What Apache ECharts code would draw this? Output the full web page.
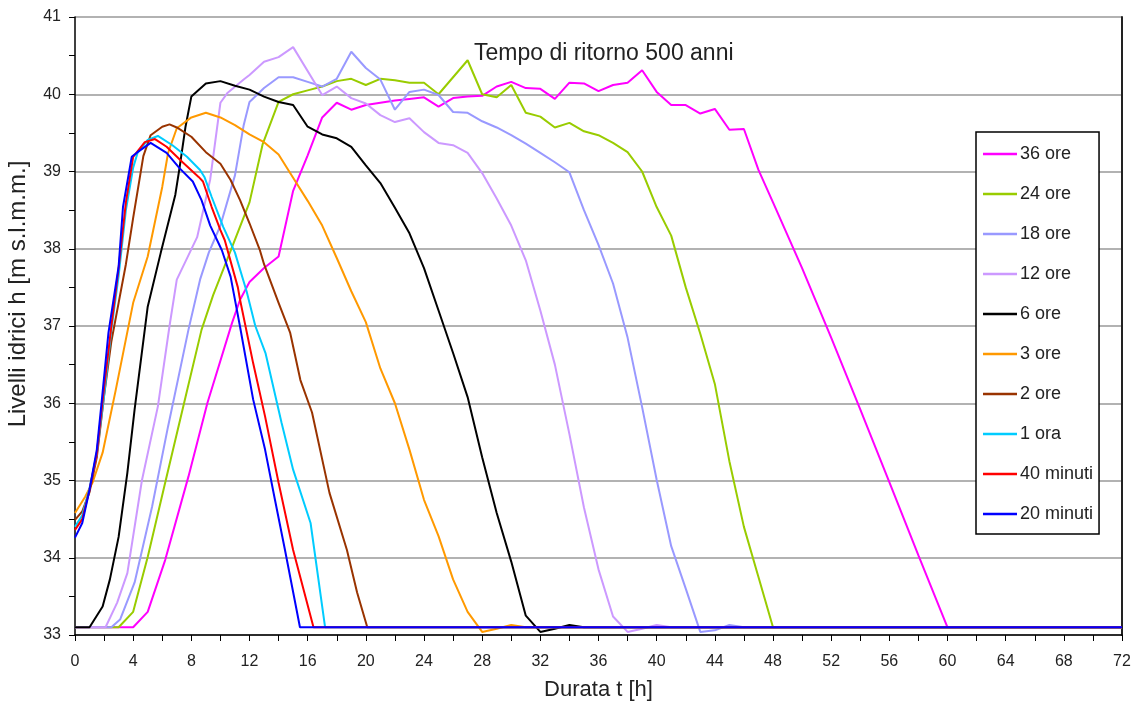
<!DOCTYPE html>
<html>
<head>
<meta charset="utf-8">
<title>Livelli idrici</title>
<script src="https://cdn.jsdelivr.net/npm/echarts@6/dist/echarts.min.js"></script>
<style>
  html, body { margin: 0; padding: 0; background: #fff; }
  #main { width: 1138px; height: 709px; }
</style>
</head>
<body>
<div id="main"></div>
<script>
// tick labels of the two axes
var xTicks = [0, 4, 8, 12, 16, 20, 24, 28, 32, 36, 40, 44, 48, 52, 56, 60, 64, 68, 72];
var yTicks = [33, 34, 35, 36, 37, 38, 39, 40, 41];

// legend names (same order as the legend)
var nomi = ['36 ore', '24 ore', '18 ore', '12 ore', '6 ore', '3 ore', '2 ore', '1 ora', '40 minuti', '20 minuti'];

// [t (h), livello (m s.l.m.m.)]
var h36 = [[0,33.1],[4,33.1],[5,33.3],[6.2,33.97],[7.8,35.05],[9.1,36.0],[10.8,37.04],[11.35,37.34],[12,37.57],[13,37.75],[14,37.9],[15,38.75],[16,39.21],[17,39.7],[18,39.89],[19,39.8],[20,39.86],[21,39.89],[22,39.92],[23,39.94],[24,39.96],[25,39.84],[26,39.95],[27,39.97],[28,39.98],[29,40.1],[30,40.16],[31,40.08],[32,40.07],[33,39.94],[34,40.15],[35,40.14],[36,40.04],[37,40.12],[38,40.15],[39,40.31],[40,40.03],[41,39.86],[42,39.86],[43,39.75],[44,39.81],[45,39.54],[46,39.55],[47,39.02],[48,38.6],[50,37.75],[52,36.85],[54,35.92],[56,34.98],[58,34.03],[60,33.1],[72,33.1]];
var h24 = [[0,33.1],[3,33.1],[4,33.3],[5,34.01],[6.2,34.97],[7.6,36.08],[8.7,36.95],[9.5,37.4],[10.8,38.02],[12,38.6],[12.9,39.35],[14,39.9],[15,40.0],[16,40.05],[17,40.1],[18,40.17],[19,40.2],[20,40.12],[21,40.2],[22,40.18],[23,40.15],[24,40.15],[25,40.0],[27,40.44],[28,40.0],[29,39.96],[30,40.12],[31,39.76],[32,39.71],[33,39.57],[34,39.63],[35,39.52],[36,39.47],[37,39.37],[38,39.25],[39,39.0],[40,38.54],[41,38.17],[42,37.5],[43,36.9],[44,36.25],[45,35.25],[46,34.4],[47,33.75],[48,33.1],[72,33.1]];
var h18 = [[0,33.1],[2.5,33.1],[3.1,33.2],[4.1,33.68],[5.3,34.66],[6.4,35.7],[7.8,36.95],[8.6,37.6],[9.2,37.95],[10,38.3],[11,38.95],[11.6,39.6],[12,39.9],[13,40.08],[14,40.22],[15,40.22],[16,40.16],[17,40.1],[18,40.2],[19,40.55],[20,40.34],[21,40.19],[22,39.8],[23,40.03],[24,40.06],[25,39.99],[26,39.77],[27,39.76],[28,39.65],[29,39.57],[30,39.47],[31,39.36],[32,39.24],[33,39.12],[34,38.99],[35,38.5],[36,38.05],[37,37.55],[38,36.85],[39,35.95],[40,35.01],[41,34.15],[42,33.6],[43,33.04],[44,33.06],[45,33.13],[46,33.1],[72,33.1]];
var h12 = [[0,33.1],[2.1,33.1],[2.9,33.42],[3.6,33.8],[4.6,35.0],[5.7,35.96],[6.5,37.0],[7,37.6],[8.4,38.15],[9.3,38.9],[10,39.89],[10.5,40.02],[11.6,40.19],[12,40.25],[13,40.42],[14,40.48],[15,40.61],[17,39.99],[18,40.1],[19,39.95],[20,39.88],[21,39.73],[22,39.64],[23,39.69],[24,39.51],[25,39.37],[26,39.34],[27,39.24],[28,38.98],[29,38.65],[30,38.3],[31,37.85],[32,37.2],[33,36.5],[34,35.6],[35,34.65],[36,33.85],[37,33.24],[38,33.04],[39,33.08],[40,33.13],[41,33.1],[72,33.1]];
var h6 = [[0,33.1],[1,33.1],[1.9,33.37],[2.4,33.72],[3,34.27],[3.6,35.1],[4.1,35.92],[5,37.25],[5.9,37.95],[6.9,38.7],[7.2,39.06],[7.6,39.58],[8,39.97],[9,40.14],[10,40.17],[11,40.11],[12,40.06],[13,39.97],[14,39.9],[15,39.86],[16,39.58],[17,39.48],[18,39.43],[19,39.32],[20,39.08],[21,38.85],[22,38.53],[23,38.2],[24,37.75],[25,37.2],[26,36.65],[27,36.08],[28,35.3],[29,34.58],[30,33.95],[31,33.25],[32,33.04],[33,33.08],[34,33.13],[35,33.1],[72,33.1]];
var h3 = [[0,34.58],[0.7,34.79],[1.2,34.97],[1.9,35.36],[2.8,36.17],[4,37.3],[5,37.9],[6,38.8],[6.4,39.24],[7,39.56],[8,39.7],[9,39.76],[10,39.7],[11,39.6],[12,39.48],[13,39.38],[14,39.22],[15,38.92],[16,38.62],[17,38.3],[18,37.88],[19,37.45],[20,37.05],[21,36.45],[22,36.0],[23,35.4],[24,34.75],[25,34.28],[26,33.72],[27,33.3],[28,33.04],[29,33.08],[30,33.13],[31,33.1],[72,33.1]];
var h2 = [[0,34.49],[0.5,34.6],[1,34.85],[1.5,35.3],[2,36.1],[2.5,36.8],[3,37.3],[3.5,37.8],[4,38.4],[4.7,39.2],[5.2,39.47],[6,39.58],[6.5,39.61],[7,39.57],[8,39.45],[9,39.25],[10,39.1],[10.7,38.89],[11.35,38.63],[12,38.33],[12.7,37.99],[13,37.8],[14,37.3],[14.8,36.91],[15.5,36.3],[16.3,35.88],[17.5,34.84],[18.7,34.1],[19.4,33.55],[20.1,33.1],[72,33.1]];
var h1 = [[0,34.4],[0.5,34.55],[1,34.9],[1.5,35.35],[2,36.1],[2.5,36.95],[3,37.65],[3.5,38.5],[4,39.05],[4.3,39.24],[5,39.41],[5.7,39.46],[6.7,39.34],[7.7,39.19],[8.6,39.02],[8.9,38.93],[9.4,38.67],[10.2,38.28],[11,37.95],[11.8,37.45],[12.4,37.0],[13.1,36.65],[14.2,35.75],[15,35.14],[16.2,34.45],[17.2,33.1],[72,33.1]];
var m40 = [[0,34.36],[0.5,34.5],[1,34.88],[1.5,35.35],[2,36.2],[2.5,37.0],[3,37.75],[3.5,38.6],[4,39.19],[4.8,39.38],[5.5,39.42],[6.3,39.32],[7.4,39.12],[8.5,38.93],[8.8,38.87],[9.4,38.54],[10,38.24],[10.3,38.11],[11.2,37.5],[11.35,37.34],[12.25,36.52],[13.07,35.83],[14,34.97],[15,34.1],[16.4,33.1],[72,33.1]];
var m20 = [[0,34.26],[0.5,34.45],[1,34.88],[1.5,35.4],[1.85,36.05],[2.3,36.91],[3,37.77],[3.3,38.54],[3.9,39.19],[4.3,39.25],[5.2,39.37],[6.3,39.24],[7.2,39.04],[8.1,38.87],[8.7,38.63],[9.3,38.3],[10.1,37.98],[10.7,37.64],[11.35,36.99],[12.25,36.05],[13.07,35.4],[13.75,34.75],[14.44,34.1],[15.47,33.1],[72,33.1]];

var dati = [h36, h24, h18, h12, h6, h3, h2, h1, m40, m20];
var colori = ['#ff00ff', '#99cc00', '#9999ff', '#cc99ff', '#000000', '#ff9900', '#993300', '#00ccff', '#ff0000', '#0000ff'];

var font = "'Liberation Sans', Arial, sans-serif";

var serie = [];
for (var i = 0; i < nomi.length; i++) {
    serie.push({
        name: nomi[i],
        type: 'line',
        data: dati[i],
        symbol: 'none',
        color: colori[i],
        lineStyle: { width: 2, color: colori[i] },
        animation: false
    });
}

var chart = echarts.init(document.getElementById('main'));
chart.setOption({
    backgroundColor: '#fff',
    title: {
        text: 'Tempo di ritorno 500 anni',
        left: 469,
        top: 37,
        textStyle: { fontFamily: font, fontSize: 23, fontWeight: 'normal', color: '#222' }
    },
    // asse y: titolo ruotato
    graphic: [{
        type: 'text',
        x: 18,
        y: 294,
        rotation: Math.PI / 2,
        style: {
            text: 'Livelli idrici h [m s.l.m.m.]',
            fontFamily: font,
            fontSize: 24,
            fill: '#222',
            textAlign: 'center',
            textVerticalAlign: 'middle'
        }
    }],
    grid: { left: 75, right: 16, top: 17, bottom: 74 },
    legend: {
        orient: 'vertical',
        left: 976,
        top: 132,
        data: nomi,
        icon: 'rect',
        itemWidth: 34,
        itemHeight: 2.5,
        itemGap: 22,
        padding: [13, 6, 11, 7],
        backgroundColor: '#fff',
        borderColor: '#000',
        borderWidth: 1.5,
        textStyle: { fontFamily: font, fontSize: 18, color: '#222', padding: [0, 0, 0, -2] }
    },
    xAxis: {
        type: 'value',
        min: xTicks[0],
        max: xTicks[xTicks.length - 1],
        interval: xTicks[1] - xTicks[0],
        name: 'Durata t [h]',
        nameLocation: 'middle',
        nameGap: 44,
        nameTextStyle: { fontFamily: font, fontSize: 22, color: '#222' },
        axisLine: { lineStyle: { color: '#000', width: 1.5 } },
        axisTick: { show: true, length: 6, lineStyle: { color: '#000' } },
        minorTick: { show: true, splitNumber: 2, length: 6, lineStyle: { color: '#000' } },
        splitLine: { show: false },
        axisLabel: { fontFamily: font, fontSize: 16, color: '#222', margin: 19 }
    },
    yAxis: [{
        type: 'value',
        min: yTicks[0],
        max: yTicks[yTicks.length - 1],
        interval: yTicks[1] - yTicks[0],
        axisLine: { show: true, lineStyle: { color: '#000', width: 1.5 } },
        axisTick: { show: true, length: 6, lineStyle: { color: '#000' } },
        minorTick: { show: true, splitNumber: 2, length: 6, lineStyle: { color: '#000' } },
        splitLine: { show: true, lineStyle: { color: '#999', width: 1.5 } },
        axisLabel: { fontFamily: font, fontSize: 16, color: '#222', margin: 14 }
    }, {
        type: 'value',
        position: 'right',
        min: yTicks[0],
        max: yTicks[yTicks.length - 1],
        axisLine: { show: true, lineStyle: { color: '#222', width: 2 } },
        axisTick: { show: false },
        axisLabel: { show: false },
        splitLine: { show: false }
    }],
    series: serie
});
</script>
</body>
</html>
